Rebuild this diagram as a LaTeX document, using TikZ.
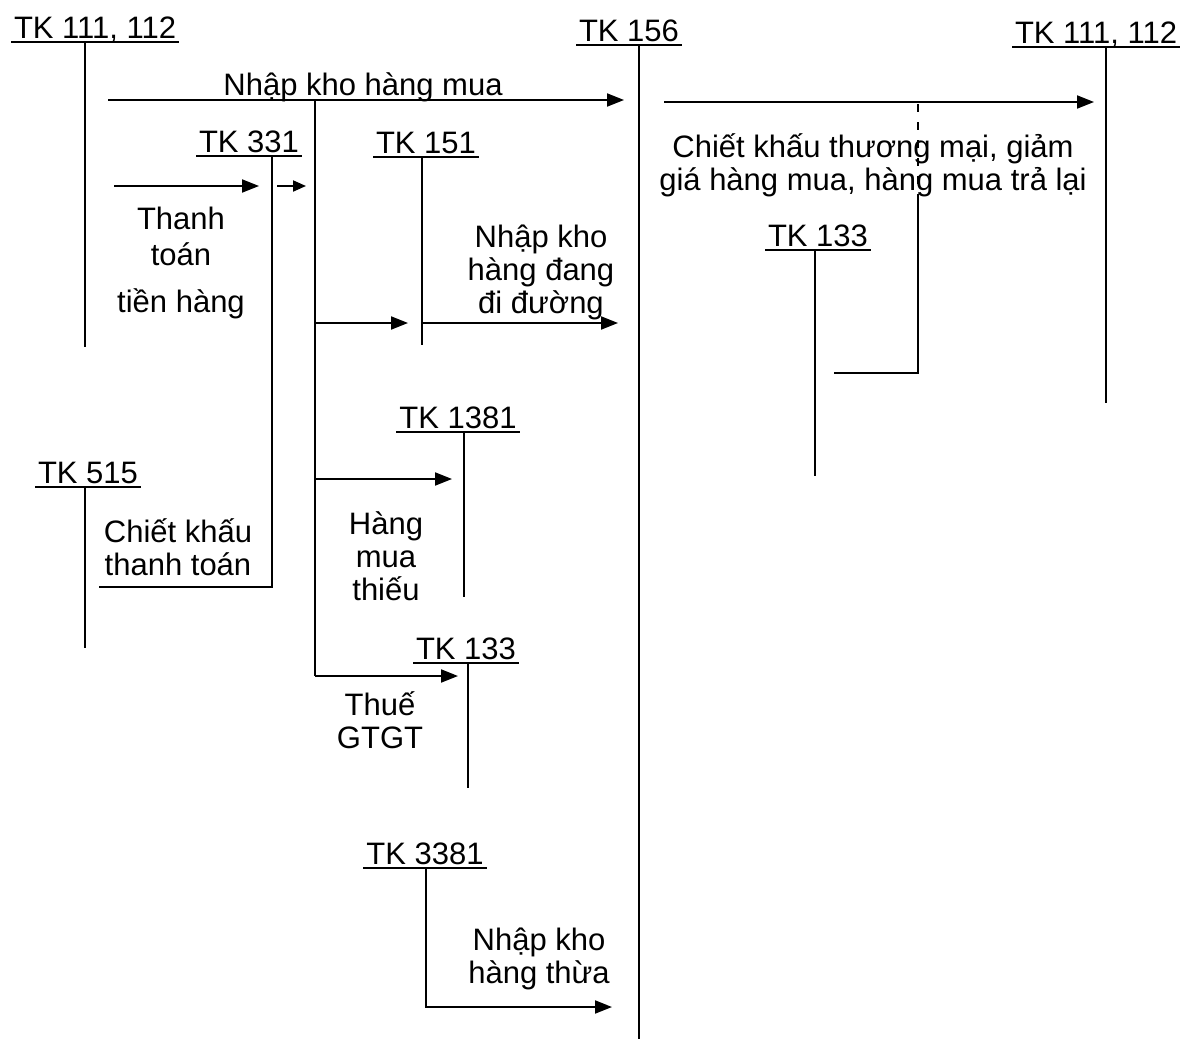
\documentclass[tikz,border=0pt]{standalone}
\usepackage{fontspec}
\setmainfont{Liberation Sans}
\usetikzlibrary{arrows.meta}
\tikzset{
  acct/.style={inner xsep=1pt, inner ysep=0pt, anchor=base},
  txt/.style={inner sep=0pt, anchor=base, align=center},
  flow/.style={-{Triangle[length=8.5pt,width=6.5pt]}},
}
\begin{document}
\begin{tikzpicture}[x=0.5pt,y=-0.5pt,line width=1pt,font=\fontsize{15.5}{16.5}\selectfont]
\useasboundingbox (0,0) rectangle (1183,1039);

% accounts
\node[acct] (a111l) at (95,38) {TK 111, 112};
\draw ([yshift=-2pt]a111l.base west) -- ([yshift=-2pt]a111l.base east);
\draw (85,42) -- (85,347);

\node[acct] (a156) at (629,41) {TK 156};
\draw ([yshift=-2pt]a156.base west) -- ([yshift=-2pt]a156.base east);
\draw (639,45) -- (639,1039);

\node[acct] (a111r) at (1096,43) {TK 111, 112};
\draw ([yshift=-2pt]a111r.base west) -- ([yshift=-2pt]a111r.base east);
\draw (1106,47) -- (1106,403);

\node[acct] (a331) at (249,152) {TK 331};
\draw ([yshift=-2pt]a331.base west) -- ([yshift=-2pt]a331.base east);

\node[acct] (a151) at (426,153) {TK 151};
\draw ([yshift=-2pt]a151.base west) -- ([yshift=-2pt]a151.base east);
\draw (422,157) -- (422,345);

\node[acct] (a133r) at (818,246) {TK 133};
\draw ([yshift=-2pt]a133r.base west) -- ([yshift=-2pt]a133r.base east);
\draw (815,250) -- (815,476);

\node[acct] (a1381) at (458,428) {TK 1381};
\draw ([yshift=-2pt]a1381.base west) -- ([yshift=-2pt]a1381.base east);
\draw (464,432) -- (464,597);

\node[acct] (a515) at (88,483) {TK 515};
\draw ([yshift=-2pt]a515.base west) -- ([yshift=-2pt]a515.base east);
\draw (85,487) -- (85,648);

\node[acct] (a133l) at (466,659) {TK 133};
\draw ([yshift=-2pt]a133l.base west) -- ([yshift=-2pt]a133l.base east);
\draw (468,663) -- (468,788);

\node[acct] (a3381) at (425,864) {TK 3381};
\draw ([yshift=-2pt]a3381.base west) -- ([yshift=-2pt]a3381.base east);

% flows
\coordinate (buy0) at (108,100);
\coordinate (buy1) at (624,100);
\draw[flow] (buy0) -- (buy1);
\node[txt] (lbuy) at (363,95) {Nhập kho hàng mua};

\coordinate (trunk) at (315,100);
\coordinate (trunkend) at (315,676);
\coordinate (to151) at (408,323);
\coordinate (to1381) at (452,479);
\coordinate (to133) at (458,676);
\draw (trunk) -- (trunkend);
\draw[flow] (trunk |- to151) -- (to151);
\draw[flow] (trunk |- to1381) -- (to1381);
\draw[flow] (trunkend) -- (to133);

\coordinate (pay0) at (114,186);
\coordinate (pay1) at (259,186);
\coordinate (short0) at (277,186);
\coordinate (short1) at (306,186);
\draw[flow] (pay0) -- (pay1);
\draw[-{Triangle[length=6.5pt,width=5.5pt]}] (short0) -- (short1);
\node[txt] (lpay) at (181,312) {Thanh\\[1.5pt]toán\\[7pt]tiền hàng};

\coordinate (road0) at (422,323);
\coordinate (road1) at (618,323);
\draw[flow] (road0) -- (road1);
\node[txt] (lroad) at (541,313) {Nhập kho\\hàng đang\\đi đường};

\coordinate (disc) at (99,587);
\draw (272,156) -- (272,587) -- (disc);
\node[txt] (ldisc) at (178,575) {Chiết khấu\\thanh toán};

\node[txt] (lshort) at (386,600) {Hàng\\mua\\thiếu};
\node[txt] (lvat) at (380,748) {Thuế\\GTGT};

\coordinate (surplus) at (612,1007);
\draw[flow] (426,868) -- (426,1007) -- (surplus);
\node[txt] (lsurplus) at (539,983) {Nhập kho\\hàng thừa};

\coordinate (ret0) at (664,102);
\coordinate (ret1) at (1094,102);
\draw[flow] (ret0) -- (ret1);
\node[txt] (lret) at (873,190) {Chiết khấu thương mại, giảm\\giá hàng mua, hàng mua trả lại};

\coordinate (vat0) at (918,104);
\coordinate (vatmid) at (918,197);
\coordinate (vat1) at (834,373);
\draw[dash pattern=on 4pt off 5pt] (vat0) -- (vatmid);
\draw (vatmid) |- (vat1);
\end{tikzpicture}
\end{document}
